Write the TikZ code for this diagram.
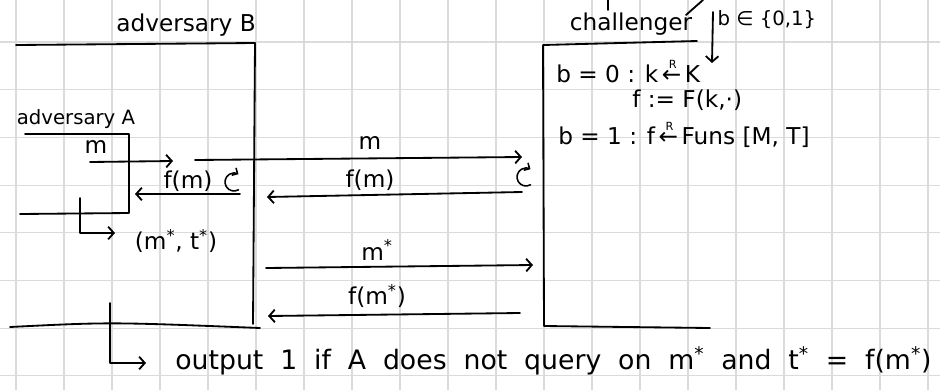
\documentclass[tikz,border=0pt]{standalone}
\usepackage{fontspec}
\setmainfont{DejaVu Sans}
\usetikzlibrary{arrows.meta}
\newcommand{\rgets}{\mbox{\hspace{0.15em}\makebox[0pt][l]{\hspace{0.3em}\raisebox{0.6em}{\fontsize{8}{8}\selectfont R}}←\hspace{0.15em}}}
\begin{document}
\begin{tikzpicture}[x=0.025cm,y=-0.025cm,
  hand/.style={line width=1.3pt,line cap=round,line join=round},
  arr/.style={hand,-{Straight Barb[length=4pt,width=9pt]}},
  curl/.style={line width=1.1pt,line cap=round,-{Straight Barb[length=3pt,width=6pt]}},
  gridline/.style={gray!28,line width=0.8pt},
  lbl/.style={inner sep=0pt,font=\fontsize{16.5}{18}\selectfont},
  sml/.style={inner sep=0pt,font=\fontsize{14}{16}\selectfont},
  big/.style={inner sep=0pt,font=\fontsize{19}{21}\selectfont}]
\useasboundingbox (0,0) rectangle (940,390);
\fill[white] (0,0) rectangle (940,390);
% grid
\foreach \i in {0,...,19} \draw[gridline] ({16+48*\i},0) -- ({16+48*\i},390);
\foreach \j in {0,...,7} \draw[gridline] (0,{42+47.7*\j}) -- (940,{42+47.7*\j});
% top stray strokes
\draw[hand] (608,0) -- (608,10);
\draw[hand] (703,0) -- (686,15);
% adversary B box
\coordinate (Btl) at (16,45);
\coordinate (Btr) at (255,43);
\coordinate (Bbr) at (253,324);
\coordinate (Bbl) at (10,327);
\coordinate (Bbe) at (260,328);
\draw[hand] (Btl) -- (Btr) -- (Bbr);
\draw[hand] (Bbl) .. controls (110,322) .. (Bbe);
\node[lbl] (labB) at (186,25) {adversary B};
% adversary A box
\coordinate (Atl) at (25,134);
\coordinate (Atr) at (129,134);
\coordinate (Abr) at (129,213);
\coordinate (Abl) at (20,214);
\draw[hand] (Atl) -- (Atr) -- (Abr) -- (Abl);
\node[sml] (labA) at (76,119) {adversary A};
% challenger box
\coordinate (Ctl) at (697,41);
\coordinate (Ctc) at (543,45);
\coordinate (Cbl) at (544,326);
\coordinate (Cbe) at (710,328);
\draw[hand] (Ctl) -- (Ctc) -- (Cbl) -- (Cbe);
\node[lbl] (labC) at (631,24) {challenger};
% b arrow
\coordinate (bs) at (713,12);
\coordinate (be) at (712,63);
\draw[arr] (bs) -- (be);
\node[sml] (bset) at (767,20) {b ∈ \{0,1\}};
% challenger text
\node[lbl,anchor=west] (c0) at (556,72) {b = 0 : k\rgets K};
\node[lbl,anchor=west] (c0b) at (632,100) {f := F(k,·)};
\node[lbl,anchor=west] (c1) at (558,135) {b = 1 : f\rgets Funs [M, T]};
% inner m arrow
\coordinate (am1) at (90,162);
\coordinate (am2) at (173,161);
\draw[arr] (am1) -- (am2);
\node[lbl] (lm1) at (96,147) {m};
% m to challenger
\coordinate (m1) at (195,160);
\coordinate (m2) at (522,157);
\draw[arr] (m1) -- (m2);
\node[lbl] (lm2) at (370,143) {m};
% f(m) back
\coordinate (f1) at (522,192);
\coordinate (f2) at (267,197);
\draw[arr] (f1) -- (f2);
\node[lbl] (lf1) at (370,180) {f(m)};
\coordinate (g1) at (240,194);
\coordinate (g2) at (135,194);
\draw[arr] (g1) -- (g2);
\node[lbl] (lf2) at (188,181) {f(m)};
% curls
\draw[curl] (234,182) ++(60:9) arc[start angle=60,end angle=300,radius=9];
\draw[curl] (526,177) ++(60:9) arc[start angle=60,end angle=300,radius=9];
% (m*,t*) output of A
\coordinate (La1) at (80,198);
\coordinate (La2) at (80,233);
\coordinate (La3) at (115,233);
\draw[arr] (La1) -- (La2) -- (La3);
\node[lbl] (mt) at (176,241) {(m\textsuperscript{*}, t\textsuperscript{*})};
% m* arrow
\coordinate (s1) at (266,268);
\coordinate (s2) at (533,265);
\draw[arr] (s1) -- (s2);
\node[lbl] (lms) at (377,250) {m\textsuperscript{*}};
% f(m*) arrow
\coordinate (t1) at (520,313);
\coordinate (t2) at (268,316);
\draw[arr] (t1) -- (t2);
\node[lbl] (lfs) at (377,296) {f(m\textsuperscript{*})};
% output
\coordinate (Lb1) at (110,303);
\coordinate (Lb2) at (110,363);
\coordinate (Lb3) at (146,363);
\draw[arr] (Lb1) -- (Lb2) -- (Lb3);
\node[big,anchor=west] (out) at (175,361) {\makebox[18.9cm][s]{output 1 if A does not query on m\textsuperscript{*} and t\textsuperscript{*} = f(m\textsuperscript{*})}};
\end{tikzpicture}
\end{document}
